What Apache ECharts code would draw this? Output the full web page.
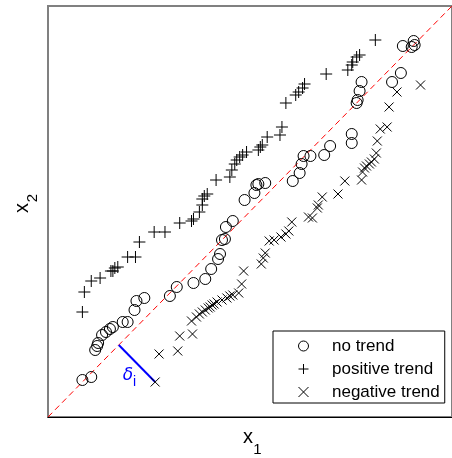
<!DOCTYPE html>
<html>
<head>
<meta charset="utf-8">
<script src="https://cdn.jsdelivr.net/npm/echarts@6/dist/echarts.min.js"></script>
<style>html,body{margin:0;padding:0;background:#fff;}#c{width:452px;height:458px;}</style>
</head>
<body>
<div id="c"></div>
<script>
// Values (arbitrary units, axis range 0..411)
const seriesNames = ['no trend', 'positive trend', 'negative trend'];

const noTrendX = [35,44,48,50,51,55,59,63,66,76,81,88,90,98,124,131,148,160,166,173,175,177,180,181,188,200,210,212,214,221,249,256,258,260,267,281,287,309,309,314,315,317,319,350,359,361,370,372,373];
const noTrendY = [37,40,67,71,74,82,85,88,90,95,95,107,116,119,121,130,134,138,148,158,163,177,178,190,196,217,224,232,233,234,236,244,253,261,261,262,271,274,283,314,317,326,335,335,344,371,370,376,372];

const posTrendX = [35,37,44,53,64,66,68,71,81,89,93,108,119,134,146,148,154,157,157,159,162,171,185,187,190,192,195,198,202,214,216,218,223,236,238,242,252,255,259,261,283,305,309,310,314,317,333];
const posTrendY = [105,125,136,139,146,146,149,150,160,160,175,185,185,194,196,198,205,212,218,221,223,237,240,247,253,257,260,262,265,267,270,272,280,282,290,314,322,325,329,333,343,347,352,355,360,362,377];

const negTrendX = [109,113,132,134,147,146,151,154,157,160,163,165,167,169,172,177,182,185,188,194,197,199,217,219,221,225,230,237,242,245,248,265,269,274,275,279,295,302,319,320,322,324,327,329,332,334,335,338,345,347,355,379];
const negTrendY = [35,63,66,81,83,96,100,103,105,107,109,110,112,113,115,117,119,121,122,124,133,146,153,159,164,176,177,180,183,186,195,200,199,209,212,220,223,236,237,245,249,251,253,255,258,264,276,288,290,310,325,332];

const axisMin = 0, axisMax = 411;
const deltaIndex = 0; // the negative-trend point whose distance to the diagonal is shown

function zip(xs, ys) { return xs.map((x, i) => [x, ys[i]]); }

const px = negTrendX[deltaIndex], py = negTrendY[deltaIndex];
const foot = (px + py) / 2;

const FONT = 'Liberation Sans, Arial, sans-serif';
const chart = echarts.init(document.getElementById('c'), null, {renderer: 'canvas'});

const markerStyle = {color: 'rgba(0,0,0,0)', borderColor: '#000', borderWidth: 1, opacity: 1};

chart.setOption({
  animation: false,
  backgroundColor: '#fff',
  grid: {left: 48, top: 6, width: 411, height: 411, show: true, borderColor: '#808080', borderWidth: 2, backgroundColor: 'transparent'},
  xAxis: {type: 'value', min: axisMin, max: axisMax,
    axisLine: {show: true, onZero: false, lineStyle: {color: '#000', width: 1}},
    axisTick: {show: false}, axisLabel: {show: false}, splitLine: {show: false}},
  yAxis: {type: 'value', min: axisMin, max: axisMax,
    axisLine: {show: true, onZero: false, lineStyle: {color: '#808080', width: 2}},
    axisTick: {show: false}, axisLabel: {show: false}, splitLine: {show: false}},
  legend: {
    orient: 'vertical', left: 273, top: 331,
    padding: [5, 5, 1, 25], itemGap: 3, itemWidth: 47, itemHeight: 10,
    borderColor: '#000', borderWidth: 1, backgroundColor: '#fff',
    itemStyle: {color: 'rgba(0,0,0,0)', borderColor: '#000', borderWidth: 1},
    textStyle: {fontSize: 17, fontFamily: FONT, color: '#000', lineHeight: 20},
    data: seriesNames, selectedMode: false
  },
  series: [
    {type: 'line', name: 'diag', data: [[axisMin, axisMin], [axisMax, axisMax]], symbol: 'none', silent: true,
      lineStyle: {color: '#ff0000', width: 1, type: [6, 4]}, z: 1},
    {type: 'scatter', name: seriesNames[0], data: zip(noTrendX, noTrendY), symbol: 'circle', symbolSize: 11,
      itemStyle: markerStyle, z: 3},
    {type: 'scatter', name: seriesNames[1], data: zip(posTrendX, posTrendY), symbol: 'path://M0,5L10,5M5,0L5,10', symbolSize: 12,
      symbolKeepAspect: true, itemStyle: markerStyle, z: 3},
    {type: 'scatter', name: seriesNames[2], data: zip(negTrendX, negTrendY), symbol: 'path://M0,0L10,10M10,0L0,10', symbolSize: 9,
      symbolKeepAspect: true, itemStyle: markerStyle, z: 3},
    {type: 'line', name: 'delta', data: [[px, py], [foot, foot]], symbol: 'none', silent: true,
      lineStyle: {color: '#0000ff', width: 2}, z: 2}
  ]
});

const mid = chart.convertToPixel({seriesIndex: 4}, [(px + foot) / 2, (py + foot) / 2]);
chart.setOption({
  graphic: [
    {type: 'text', x: mid[0] - 9, y: mid[1] + 12, style: {text: 'δ', fill: '#0000ff', font: 'italic 17px DejaVu Sans', align: 'center', verticalAlign: 'middle'}},
    {type: 'text', x: mid[0] - 2.5, y: mid[1] + 19, style: {text: 'i', fill: '#0000ff', font: '14px ' + FONT, align: 'center', verticalAlign: 'middle'}},
    {type: 'text', x: 248, y: 437, style: {text: 'x', fill: '#000', font: '20px ' + FONT, align: 'center', verticalAlign: 'middle'}},
    {type: 'text', x: 257.5, y: 450, style: {text: '1', fill: '#000', font: '15px ' + FONT, align: 'center', verticalAlign: 'middle'}},
    {type: 'text', x: 22, y: 208, rotation: Math.PI / 2, style: {text: 'x', fill: '#000', font: '20px ' + FONT, align: 'center', verticalAlign: 'middle'}},
    {type: 'text', x: 33, y: 198, rotation: Math.PI / 2, style: {text: '2', fill: '#000', font: '15px ' + FONT, align: 'center', verticalAlign: 'middle'}}
  ]
});
</script>
</body>
</html>
